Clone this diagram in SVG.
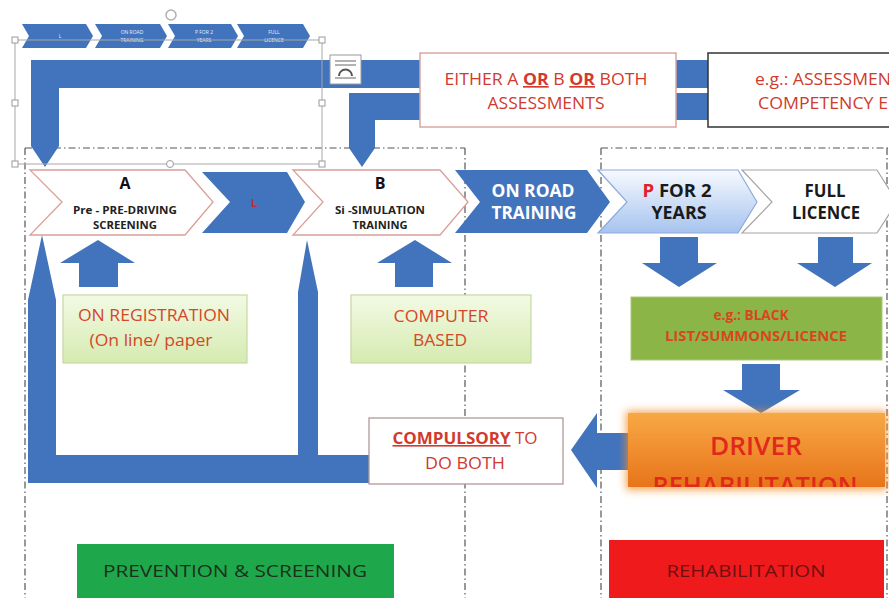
<svg xmlns="http://www.w3.org/2000/svg" width="889" height="598" viewBox="0 0 889 598">
<defs>
<style>
.t{font-family:"Open Sans","Liberation Sans",sans-serif}
.blue{fill:#4174bc}
.dash{fill:none;stroke:#555;stroke-width:1.2;stroke-dasharray:7 3 1.5 3}
.chevw{fill:#fff;stroke:#d9a09a;stroke-width:1.3}
.red{fill:#d03b2e}
.handle{fill:#fff;stroke:#9a9a9a;stroke-width:1}
.sm{font-size:5px;fill:#e6eefa;text-anchor:middle}
.mid{text-anchor:middle}
</style>
<linearGradient id="gP" x1="0" y1="0" x2="0" y2="1">
<stop offset="0" stop-color="#f7faff"/><stop offset="1" stop-color="#a6c3ee"/>
</linearGradient>
<linearGradient id="gG" x1="0" y1="0" x2="0" y2="1">
<stop offset="0" stop-color="#f3fae4"/><stop offset="1" stop-color="#d5ebb0"/>
</linearGradient>
<linearGradient id="gO" x1="0" y1="0" x2="0" y2="1">
<stop offset="0" stop-color="#f8a845"/><stop offset="1" stop-color="#e8741a"/>
</linearGradient>
<filter id="glow" x="-20%" y="-30%" width="140%" height="160%">
<feGaussianBlur stdDeviation="4"/>
</filter>
<clipPath id="clipO"><rect x="628" y="413" width="257" height="74"/></clipPath>
<clipPath id="clipL"><rect x="631" y="297" width="251" height="63"/></clipPath>
</defs>
<rect width="889" height="598" fill="#fff"/>

<!-- dashed region lines -->
<g id="regions">
<path class="dash" d="M25,148 H465 M25,148 V598 M465,148 V598 M601,148 H889 M601,148 V598 M887,148 V598"/>
</g>

<!-- top small chevron strip -->
<g id="mini-strip">
<polygon class="blue" points="22,24 86,24 93,36 86,48 22,48 29,36"/>
<polygon class="blue" points="95,24 160,24 167,36 160,48 95,48 102,36"/>
<polygon class="blue" points="168,24 231,24 238,36 231,48 168,48 175,36"/>
<polygon class="blue" points="237,24 303,24 310,36 303,48 237,48 244,36"/>
<text class="t sm" x="60" y="38">L</text>
<text class="t sm" x="132" y="34">ON ROAD</text><text class="t sm" x="132" y="42">TRAINING</text>
<text class="t sm" x="204" y="34">P FOR 2</text><text class="t sm" x="204" y="42">YEARS</text>
<text class="t sm" x="274" y="34">FULL</text><text class="t sm" x="274" y="42">LICENCE</text>
</g>

<!-- connectors -->
<g id="connectors">
<path class="blue" d="M31,60 H710 V88 H59 V146 L45,167 L31,146 Z"/>
<path class="blue" d="M349,93 H710 V120 H375 V148 L362,167 L349,148 Z"/>
<path class="blue" d="M42,235 L56,300 V455 H298 V292 L307,240 L318,292 V455 H370 V483 H28 V300 Z"/>
<polygon class="blue" points="98,240 135,263 118,263 118,287 79,287 79,263 60,263"/>
<polygon class="blue" points="415,240 452,263 433,263 433,287 395,287 395,263 377,263"/>
<polygon class="blue" points="660,237 698,237 698,263 717,263 679,287 642,263 660,263"/>
<polygon class="blue" points="818,237 853,237 853,263 872,263 835,287 797,263 818,263"/>
<polygon class="blue" points="742,364 780,364 780,390 800,390 761,413 723,390 742,390"/>
<polygon class="blue" points="630,433 597,433 597,413 571,450 597,488 597,470 630,470"/>
</g>

<!-- selection frame artefacts -->
<g id="selection">
<rect x="15" y="40" width="307" height="124" fill="none" stroke="#a8a8a8" stroke-width="1"/>
<rect class="handle" x="12" y="37" width="6" height="6"/>
<rect class="handle" x="12" y="100" width="6" height="6"/>
<rect class="handle" x="12" y="161" width="6" height="6"/>
<rect class="handle" x="319" y="37" width="6" height="6"/>
<rect class="handle" x="319" y="100" width="6" height="6"/>
<rect class="handle" x="319" y="161" width="6" height="6"/>
<circle class="handle" cx="170" cy="164" r="3.5"/>
<circle cx="171" cy="15" r="5" fill="none" stroke="#b0b0b0" stroke-width="1.5"/>
<rect x="330" y="55" width="31" height="29" fill="#fff" stroke="#9a9a9a" stroke-width="1"/>
<path d="M335,61 H356 M335,65 H356 M335,78 H356" stroke="#666" stroke-width="1"/>
<path d="M339,76 A6.5,6.5 0 0 1 352,76" fill="none" stroke="#555" stroke-width="2"/>
</g>

<g id="either-box">
<rect x="420" y="53" width="256" height="74" fill="#fff" stroke="#d8a7a2" stroke-width="1.5"/>
<text class="t red mid" x="546" y="85" font-size="16.5" textLength="203" lengthAdjust="spacingAndGlyphs">EITHER A <tspan font-weight="bold" text-decoration="underline">OR</tspan> B <tspan font-weight="bold" text-decoration="underline">OR</tspan> BOTH</text>
<text class="t red mid" x="546" y="109" font-size="16.5" textLength="117" lengthAdjust="spacingAndGlyphs">ASSESSMENTS</text>
</g>

<g id="eg-box">
<rect x="708" y="53" width="195" height="74" fill="#fff" stroke="#333" stroke-width="1.5"/>
<text class="t red" x="755" y="85" font-size="16.5" textLength="136" lengthAdjust="spacingAndGlyphs">e.g.: ASSESSMEN</text>
<text class="t red" x="758" y="109" font-size="16.5" textLength="130" lengthAdjust="spacingAndGlyphs">COMPETENCY E</text>
</g>

<g id="chev-A">
<polygon class="chevw" points="30,170 185,170 213,202 185,235 30,235 62,202"/>
<text class="t mid" x="125" y="189" font-size="16" font-weight="bold" fill="#111">A</text>
<text class="t mid" x="125" y="214" font-size="10.5" font-weight="bold" fill="#222" textLength="104" lengthAdjust="spacingAndGlyphs">Pre - PRE-DRIVING</text>
<text class="t mid" x="125" y="229" font-size="10.5" font-weight="bold" fill="#222" textLength="64" lengthAdjust="spacingAndGlyphs">SCREENING</text>
</g>

<g id="chev-L">
<polygon class="blue" points="202,172 287,172 305,202 287,233 202,233 230,202"/>
<text class="t mid" x="254" y="207" font-size="11" font-weight="bold" fill="#c8283a">L</text>
</g>

<g id="chev-B">
<polygon class="chevw" points="293,170 440,170 468,202 440,235 293,235 323,202"/>
<text class="t mid" x="380" y="189" font-size="16" font-weight="bold" fill="#111">B</text>
<text class="t mid" x="380" y="214" font-size="10.5" font-weight="bold" fill="#222" textLength="90" lengthAdjust="spacingAndGlyphs">Si -SIMULATION</text>
<text class="t mid" x="380" y="229" font-size="10.5" font-weight="bold" fill="#222" textLength="55" lengthAdjust="spacingAndGlyphs">TRAINING</text>
</g>

<g id="chev-onroad">
<polygon class="blue" points="455,170 587,170 610,202 587,233 455,233 480,202"/>
<text class="t mid" x="533" y="197" font-size="17.5" font-weight="bold" fill="#fff" textLength="83" lengthAdjust="spacingAndGlyphs">ON ROAD</text>
<text class="t mid" x="534" y="219" font-size="17.5" font-weight="bold" fill="#fff" textLength="85" lengthAdjust="spacingAndGlyphs">TRAINING</text>
</g>

<g id="chev-P">
<polygon points="598,170 738,170 757,202 738,233 598,233 627,202" fill="url(#gP)" stroke="#8eaadb" stroke-width="1.2"/>
<text class="t mid" x="677" y="197" font-size="17.5" font-weight="bold" fill="#1a1a1a" textLength="69" lengthAdjust="spacingAndGlyphs"><tspan fill="#e0202a">P</tspan> FOR 2</text>
<text class="t mid" x="679" y="219" font-size="17.5" font-weight="bold" fill="#1a1a1a" textLength="55" lengthAdjust="spacingAndGlyphs">YEARS</text>
</g>

<g id="chev-full">
<polygon points="742,170 877,170 897,202 877,233 742,233 772,202" fill="#fff" stroke="#a5a5a5" stroke-width="1.2"/>
<text class="t mid" x="825" y="197" font-size="17.5" font-weight="bold" fill="#1a1a1a" textLength="41" lengthAdjust="spacingAndGlyphs">FULL</text>
<text class="t mid" x="826" y="219" font-size="17.5" font-weight="bold" fill="#1a1a1a" textLength="68" lengthAdjust="spacingAndGlyphs">LICENCE</text>
</g>

<g id="on-registration">
<rect x="63" y="295" width="184" height="68" fill="url(#gG)" stroke="#c5d9a0" stroke-width="1.2"/>
<text class="t mid" x="154" y="321" font-size="16" fill="#d4472a" textLength="152" lengthAdjust="spacingAndGlyphs">ON REGISTRATION</text>
<text class="t mid" x="151" y="346" font-size="16" fill="#d4472a" textLength="123" lengthAdjust="spacingAndGlyphs">(On line/ paper</text>
</g>

<g id="computer-based">
<rect x="351" y="295" width="180" height="68" fill="url(#gG)" stroke="#c5d9a0" stroke-width="1.2"/>
<text class="t mid" x="441" y="322" font-size="16.5" fill="#d4472a" textLength="95" lengthAdjust="spacingAndGlyphs">COMPUTER</text>
<text class="t mid" x="440" y="346" font-size="16.5" fill="#d4472a" textLength="54" lengthAdjust="spacingAndGlyphs">BASED</text>
</g>

<g id="blacklist">
<rect x="631" y="297" width="251" height="63" fill="#8cb548" stroke="#a9c77a" stroke-width="1"/>
<g clip-path="url(#clipL)">
<text class="t mid" x="751" y="320" font-size="14" font-weight="bold" fill="#d8461f" textLength="75" lengthAdjust="spacingAndGlyphs">e.g.: BLACK</text>
<text class="t mid" x="756" y="341" font-size="14" font-weight="bold" fill="#d8461f" textLength="182" lengthAdjust="spacingAndGlyphs">LIST/SUMMONS/LICENCE</text>
</g>
</g>

<g id="driver-rehab">
<rect x="626" y="411" width="261" height="79" fill="#f2902e" filter="url(#glow)" opacity="0.8"/>
<rect x="628" y="413" width="257" height="74" fill="url(#gO)"/>
<g clip-path="url(#clipO)">
<text class="t mid" x="756" y="455" font-size="25" font-weight="600" fill="#e0281c" textLength="92" lengthAdjust="spacingAndGlyphs">DRIVER</text>
<text class="t mid" x="755" y="495" font-size="25" font-weight="600" fill="#e0281c" textLength="205" lengthAdjust="spacingAndGlyphs">REHABILITATION</text>
</g>
</g>

<g id="compulsory">
<rect x="369" y="418" width="194" height="66" fill="#fff" stroke="#b09a98" stroke-width="1.3"/>
<text class="t red mid" x="465" y="444" font-size="16" textLength="145" lengthAdjust="spacingAndGlyphs"><tspan font-weight="bold" text-decoration="underline">COMPULSORY</tspan> TO</text>
<text class="t red mid" x="465" y="469" font-size="16" textLength="80" lengthAdjust="spacingAndGlyphs">DO BOTH</text>
</g>

<g id="prevention">
<rect x="77" y="544" width="317" height="54" fill="#1fa84b"/>
<text class="t mid" x="235" y="577" font-size="16" fill="#1b301b" textLength="264" lengthAdjust="spacingAndGlyphs">PREVENTION &amp; SCREENING</text>
</g>

<g id="rehabilitation">
<rect x="609" y="540" width="275" height="58" fill="#ef1a1c"/>
<text class="t mid" x="746" y="577" font-size="16" fill="#6e1010" textLength="159" lengthAdjust="spacingAndGlyphs">REHABILITATION</text>
</g>
</svg>
